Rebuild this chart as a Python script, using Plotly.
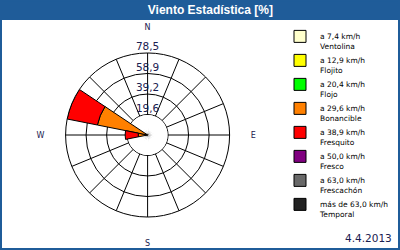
import plotly.graph_objects as go
import numpy as np

directions = ["N","NNE","NE","ENE","E","ESE","SE","SSE","S","SSW","SW","WSW","W","WNW","NW","NNW"]
dir_deg = [i * 22.5 for i in range(16)]
compass_text = ["N","","","","E","","","","S","","","","W","","",""]

class_names = ["a 7,4 km/h<br>Ventolina", "a 12,9 km/h<br>Flojito", "a 20,4 km/h<br>Flojo",
               "a 29,6 km/h<br>Bonancible", "a 38,9 km/h<br>Fresquito", "a 50,0 km/h<br>Fresco",
               "a 63,0 km/h<br>Frescachón", "más de 63,0 km/h<br>Temporal"]
class_colors = ["#ffffcc", "#ffff00", "#00ff00", "#ff8000", "#ff0000", "#800080", "#696969", "#222222"]

# percentage per direction (index order = directions)
ventolina  = [0]*16
flojito    = [0]*16
flojo      = [0]*16
bonancible = [0,0,0,0,0,0,0,0,0,0,0,0, 9.0,49.0,0,0]
fresquito  = [0,0,0,0,0,0,0,0,0,0,0,0,12.5,29.5,0,0]
fresco     = [0]*16
frescachon = [0]*16
temporal   = [0]*16
series = [ventolina, flojito, flojo, bonancible, fresquito, fresco, frescachon, temporal]

radial_ticks = [19.6, 39.2, 58.9, 78.5]
radial_labels = ["19,6", "39,2", "58,9", "78,5"]
date_text = "4.4.2013"
title_text = "Viento Estadística [%]"

BLUE = "#1f5c99"
TXT = "#1a2050"

fig = go.Figure()

# white inner disk hiding spokes inside first ring
fig.add_trace(go.Barpolar(r=[radial_ticks[0] - 0.4]*16, theta=dir_deg, width=[22.6]*16,
                          marker=dict(color="white", line=dict(width=0)),
                          showlegend=False, hoverinfo="skip"))

base = np.zeros(16)
for name, col, vals in zip(class_names, class_colors, series):
    v = np.array(vals, dtype=float)
    r = [float(v[i]) if v[i] > 0 else None for i in range(16)]
    b = [float(base[i]) if v[i] > 0 else None for i in range(16)]
    fig.add_trace(go.Barpolar(r=r, theta=dir_deg, base=b, width=[22.5]*16,
                              name=name, showlegend=True, legendgroup=name,
                              marker=dict(color=col, line=dict(color="black", width=1))))
    base = base + v

fig.add_trace(go.Scatterpolar(r=radial_ticks, theta=[0]*4, mode="text", text=radial_labels,
                              textposition="top center",
                              textfont=dict(family="DejaVu Sans", size=10.5, color=TXT),
                              showlegend=False, hoverinfo="skip"))

fig.update_layout(
    width=400, height=250, margin=dict(l=0, r=0, t=0, b=0),
    paper_bgcolor="white",
    title=dict(text="<b>" + title_text + "</b>", xref="paper", x=0.526, xanchor="center",
               yref="container", y=0.96, yanchor="middle",
               font=dict(family="Liberation Sans", size=12, color="white")),
    polar=dict(
        domain=dict(x=[0.164, 0.574], y=[0.132, 0.788]),
        bgcolor="white",
        barmode="overlay",
        angularaxis=dict(rotation=90, direction="clockwise", tickmode="array",
                         tickvals=dir_deg, ticktext=compass_text,
                         showgrid=True, gridcolor="black", gridwidth=1,
                         showline=True, linecolor="black", linewidth=1,
                         ticks="outside", ticklen=19, tickcolor="rgba(0,0,0,0)",
                         tickfont=dict(family="DejaVu Sans", size=8, color=TXT)),
        radialaxis=dict(range=[0, radial_ticks[-1]], tickmode="array", tickvals=radial_ticks,
                        showticklabels=False, ticks="", showline=False,
                        showgrid=True, gridcolor="black", gridwidth=1, angle=90),
    ),
    legend=dict(x=0.7, xanchor="left", y=0.9, yanchor="top", valign="top",
                font=dict(family="DejaVu Sans", size=7.5, color="black"),
                bgcolor="rgba(0,0,0,0)", tracegroupgap=1.5),
    shapes=[
        dict(type="rect", xref="paper", yref="paper", x0=0, x1=1, y0=0.92, y1=1,
             fillcolor=BLUE, line=dict(width=0), layer="below"),
        dict(type="rect", xref="paper", yref="paper", x0=0.0025, x1=0.9975, y0=0.004, y1=0.998,
             fillcolor="rgba(0,0,0,0)", line=dict(color=BLUE, width=2)),
    ],
    annotations=[dict(text=date_text, xref="paper", yref="paper", x=0.985, y=0.015,
                      xanchor="right", yanchor="bottom", showarrow=False,
                      font=dict(family="DejaVu Sans", size=10.5, color=TXT))],
)

fig.write_html("out.html")
